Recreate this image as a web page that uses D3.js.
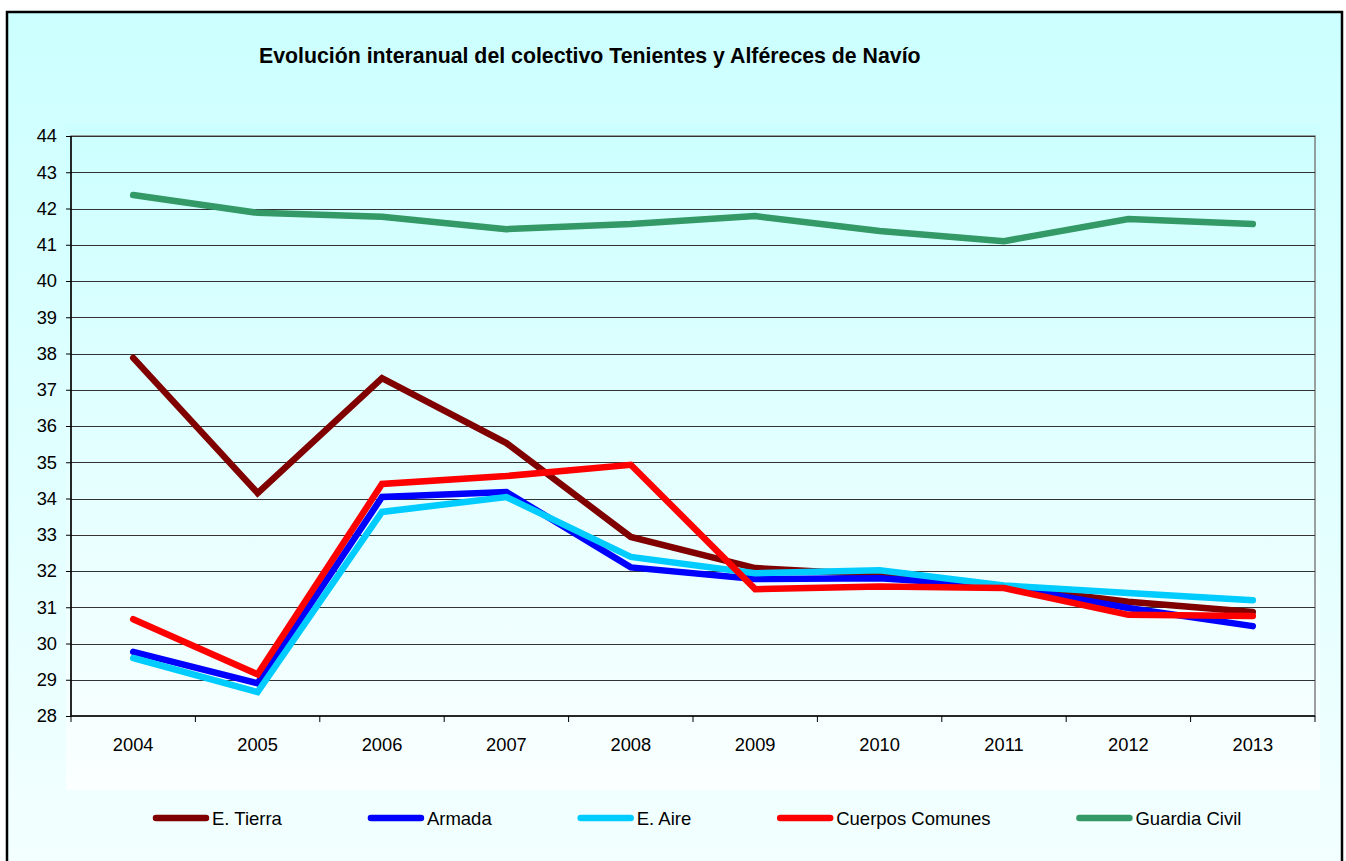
<!DOCTYPE html>
<html>
<head>
<meta charset="utf-8">
<script src="https://cdn.jsdelivr.net/npm/d3@7"></script>
<style>
  html, body { margin: 0; padding: 0; background: #fff; }
  svg { display: block; font-family: "Liberation Sans", Arial, sans-serif; }
</style>
</head>
<body>
<div id="chart"></div>
<script>
// ── Data ────────────────────────────────────────────────────────────────
const years = ["2004", "2005", "2006", "2007", "2008", "2009", "2010", "2011", "2012", "2013"];

const eTierra     = [37.88, 34.15, 37.32, 35.53, 32.94, 32.08, 31.90, 31.56, 31.15, 30.87];
const armada      = [29.77, 28.90, 34.04, 34.18, 32.10, 31.78, 31.80, 31.58, 30.98, 30.48];
const eAire       = [29.60, 28.66, 33.63, 34.04, 32.39, 31.94, 32.02, 31.60, 31.39, 31.19];
const cuerpos     = [30.67, 29.15, 34.40, 34.62, 34.93, 31.50, 31.57, 31.53, 30.79, 30.76];
const guardia     = [42.37, 41.88, 41.77, 41.43, 41.57, 41.79, 41.38, 41.10, 41.71, 41.57];

const seriesNames = ["E. Tierra", "Armada", "E. Aire", "Cuerpos Comunes", "Guardia Civil"];
const yTicks = d3.range(28, 45, 1);

const title = "Evolución interanual del colectivo Tenientes y Alféreces de Navío";

// ── Styles ──────────────────────────────────────────────────────────────
const colors = ["#800000", "#0000ff", "#00ccff", "#ff0000", "#339966"];
const W = 1346, H = 861;
const plot = { left: 71, right: 1315, top: 136, bottom: 716 };

const series = seriesNames.map((name, i) => ({
  name,
  color: colors[i],
  values: [eTierra, armada, eAire, cuerpos, guardia][i]
}));

const svg = d3.select("#chart").append("svg")
  .attr("width", W)
  .attr("height", H);

const defs = svg.append("defs");

// chart area gradient
const gOuter = defs.append("linearGradient")
  .attr("id", "bgOuter").attr("x1", 0).attr("y1", 0).attr("x2", 0).attr("y2", 1);
gOuter.append("stop").attr("offset", "0%").attr("stop-color", "#ccffff");
gOuter.append("stop").attr("offset", "100%").attr("stop-color", "#f4ffff");

// plot area gradient
const gPlot = defs.append("linearGradient")
  .attr("id", "bgPlot").attr("x1", 0).attr("y1", 0).attr("x2", 0).attr("y2", 1);
gPlot.append("stop").attr("offset", "0%").attr("stop-color", "#ccffff");
gPlot.append("stop").attr("offset", "100%").attr("stop-color", "#fbffff");

// ── Backgrounds ─────────────────────────────────────────────────────────
svg.append("rect")
  .attr("x", 7).attr("y", 12)
  .attr("width", 1335).attr("height", 870)
  .attr("fill", "url(#bgOuter)")
  .attr("stroke", "#000")
  .attr("stroke-width", 2.5);

svg.append("rect")
  .attr("x", 66).attr("y", 125)
  .attr("width", 1254).attr("height", 665)
  .attr("fill", "url(#bgPlot)");

// ── Scales ──────────────────────────────────────────────────────────────
const x = d3.scaleBand()
  .domain(years)
  .range([plot.left, plot.right]);

const y = d3.scaleLinear()
  .domain([28, 44])
  .range([plot.bottom, plot.top]);

const xc = d => x(d) + x.bandwidth() / 2;

// plot border (only right edge ends up visible)
svg.append("rect")
  .attr("x", plot.left).attr("y", plot.top)
  .attr("width", plot.right - plot.left)
  .attr("height", plot.bottom - plot.top)
  .attr("fill", "none")
  .attr("stroke", "#808080")
  .attr("stroke-width", 1.5);

// ── Gridlines ───────────────────────────────────────────────────────────
svg.append("g")
  .selectAll("line")
  .data(yTicks.filter(t => t !== 28))
  .join("line")
    .attr("x1", plot.left).attr("x2", plot.right)
    .attr("y1", d => Math.round(y(d)) + 0.5)
    .attr("y2", d => Math.round(y(d)) + 0.5)
    .attr("stroke", "#333")
    .attr("stroke-width", 1.2);

// ── Axes ────────────────────────────────────────────────────────────────
const yAxis = svg.append("g")
  .attr("transform", `translate(${plot.left},0)`)
  .call(d3.axisLeft(y).tickValues(yTicks).tickSize(5).tickPadding(9).tickFormat(d3.format("d")));

const xAxis = svg.append("g")
  .attr("transform", `translate(0,${plot.bottom})`)
  .call(d3.axisBottom(x).tickSize(0).tickPadding(22));

// tick marks at band boundaries
xAxis.selectAll(".bound")
  .data(years.concat(["end"]))
  .join("line")
    .attr("class", "bound")
    .attr("x1", (d, i) => i < years.length ? x(d) : plot.right)
    .attr("x2", (d, i) => i < years.length ? x(d) : plot.right)
    .attr("y1", 0).attr("y2", 6)
    .attr("stroke", "#000");

[yAxis, xAxis].forEach(a => {
  a.select(".domain").attr("stroke", "#000").attr("stroke-width", 1.5);
  a.selectAll(".tick line").attr("stroke", "#000");
  a.selectAll("text")
    .attr("fill", "#000")
    .style("font-size", "18.3px")
    .style("font-family", "'Liberation Sans', Arial, sans-serif");
});
yAxis.select(".domain").attr("d", `M0,${plot.top}V${plot.bottom}`);
xAxis.select(".domain").attr("d", `M${plot.left},0H${plot.right}`);

// ── Lines ───────────────────────────────────────────────────────────────
const line = d3.line()
  .x((d, i) => xc(years[i]))
  .y(d => y(d));

svg.append("g")
  .selectAll("path")
  .data(series)
  .join("path")
    .attr("d", d => line(d.values))
    .attr("fill", "none")
    .attr("stroke", d => d.color)
    .attr("stroke-width", 6.5)
    .attr("stroke-linecap", "round")
    .attr("stroke-linejoin", "miter");

// ── Title ───────────────────────────────────────────────────────────────
svg.append("text")
  .attr("x", 259)
  .attr("y", 63)
  .attr("font-size", "21.3px")
  .attr("font-weight", "bold")
  .attr("fill", "#000")
  .text(title);

// ── Legend ──────────────────────────────────────────────────────────────
const legend = svg.append("g").attr("transform", "translate(0,818)");
let lx = 153;
series.forEach(s => {
  const item = legend.append("g").attr("transform", `translate(${lx},0)`);
  item.append("line")
    .attr("x1", 3).attr("x2", 53)
    .attr("y1", 0).attr("y2", 0)
    .attr("stroke", s.color)
    .attr("stroke-width", 6.5)
    .attr("stroke-linecap", "round");
  const t = item.append("text")
    .attr("x", 59)
    .attr("y", 6.5)
    .attr("font-size", "18.5px")
    .attr("fill", "#000")
    .text(s.name);
  lx += 59 + t.node().getComputedTextLength() + 86;
});
</script>
</body>
</html>
